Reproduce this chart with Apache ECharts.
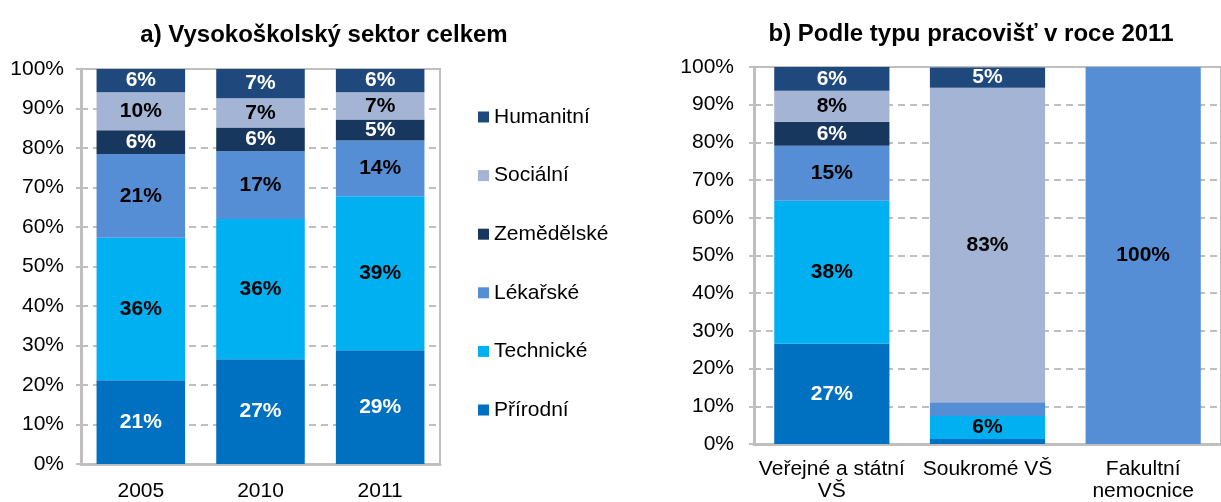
<!DOCTYPE html>
<html>
<head>
<meta charset="utf-8">
<script src="https://cdn.jsdelivr.net/npm/echarts@6/dist/echarts.min.js"></script>
<style>
  html, body { margin: 0; padding: 0; background: #fff; }
  #chart { width: 1221px; height: 502px; }
</style>
</head>
<body>
<div id="chart"></div>
<script>
// a) whole university sector, by year
var yearsA = ['2005', '2010', '2011'];
// b) by workplace type in 2011
var typesB = ['Veřejné a státní\nVŠ', 'Soukromé VŠ', 'Fakultní\nnemocnice'];

var fields = ['Přírodní', 'Technické', 'Lékařské', 'Zemědělské', 'Sociální', 'Humanitní'];
var fieldColors = ['#0070c0', '#00b0f0', '#558ed5', '#17375e', '#a3b4d5', '#1f497d'];
var labelColors = ['#fff', '#000', '#000', '#fff', '#000', '#fff'];

// shares (%) per field, one value per category
var prirodniA   = [21.2, 26.5, 28.8];
var technickeA  = [36.1, 35.5, 39.0];
var lekarskeA   = [21.2, 17.2, 14.1];
var zemedelskeA = [6.0, 6.0, 5.3];
var socialniA   = [9.6, 7.4, 6.9];
var humanitniA  = [5.9, 7.4, 5.9];

var prirodniB   = [26.6, 1.3, 0];
var technickeB  = [37.9, 6.1, 0];
var lekarskeB   = [14.6, 3.7, 100];
var zemedelskeB = [6.4, 0, 0];
var socialniB   = [8.2, 83.4, 0];
var humanitniB  = [6.3, 5.4, 0];

var yTicks = [0, 10, 20, 30, 40, 50, 60, 70, 80, 90, 100];

var dataA = [prirodniA, technickeA, lekarskeA, zemedelskeA, socialniA, humanitniA];
var dataB = [prirodniB, technickeB, lekarskeB, zemedelskeB, socialniB, humanitniB];

var font = 'Liberation Sans, Arial, sans-serif';
var gray = '#bfbfbf';

function makeSeries(i, data, axisIdx, stack) {
  return {
    name: fields[i],
    type: 'bar',
    stack: stack,
    xAxisIndex: axisIdx,
    yAxisIndex: axisIdx,
    barWidth: '74%',
    data: data,
    itemStyle: { color: fieldColors[i] },
    label: {
      show: true,
      position: 'inside',
      color: labelColors[i],
      fontFamily: font,
      fontWeight: 'bold',
      fontSize: 21,
      formatter: function (p) {
        return p.value >= 4.5 ? Math.round(p.value) + '%' : '';
      }
    }
  };
}

function makeY(idx, margin) {
  return {
    gridIndex: idx,
    type: 'value',
    min: 0,
    max: 100,
    interval: 10,
    axisLine: { show: true, lineStyle: { color: gray, width: 3 } },
    axisTick: { show: true, length: 5, lineStyle: { color: gray, width: 2 } },
    splitLine: { show: true, lineStyle: { color: gray, width: 2, type: [7, 5] } },
    axisLabel: {
      margin: margin,
      color: '#000',
      fontFamily: font,
      fontSize: 21,
      formatter: function (v) { return yTicks.indexOf(v) >= 0 ? v + '%' : ''; }
    }
  };
}

function makeX(idx, cats, margin) {
  return {
    gridIndex: idx,
    type: 'category',
    data: cats,
    axisLine: { show: true, lineStyle: { color: gray, width: 3 } },
    axisTick: { show: false },
    axisLabel: {
      margin: margin,
      interval: 0,
      color: '#000',
      fontFamily: font,
      fontSize: 21,
      lineHeight: 22
    }
  };
}

var series = [];
for (var i = 0; i < fields.length; i++) series.push(makeSeries(i, dataA[i], 0, 'a'));
for (var j = 0; j < fields.length; j++) series.push(makeSeries(j, dataB[j], 1, 'b'));

var chart = echarts.init(document.getElementById('chart'));
var option = {
  animation: false,
  backgroundColor: '#fff',
  title: [
    {
      text: 'a) Vysokoškolský sektor celkem',
      left: 319, top: 18, textAlign: 'center',
      textStyle: { fontFamily: font, fontWeight: 'bold', fontSize: 24, color: '#000' }
    },
    {
      text: 'b) Podle typu pracovišť v roce 2011',
      left: 966, top: 17, textAlign: 'center',
      textStyle: { fontFamily: font, fontWeight: 'bold', fontSize: 24, color: '#000' }
    }
  ],
  legend: {
    orient: 'vertical',
    left: 478,
    top: 106,
    padding: 0,
    itemWidth: 11,
    itemHeight: 11,
    itemGap: 36.6,
    icon: 'rect',
    data: fields.slice().reverse(),
    textStyle: { fontFamily: font, fontSize: 21, color: '#000', lineHeight: 22 }
  },
  grid: [
    { left: 81, top: 69, width: 359, height: 397, show: true, borderColor: gray, borderWidth: 2 },
    { left: 754, top: 67, width: 476, height: 377, show: true, borderColor: gray, borderWidth: 2 }
  ],
  xAxis: [makeX(0, yearsA, 16), makeX(1, typesB, 14)],
  yAxis: [makeY(0, 17), makeY(1, 20)],
  series: series
};
chart.setOption(option);
</script>
</body>
</html>
